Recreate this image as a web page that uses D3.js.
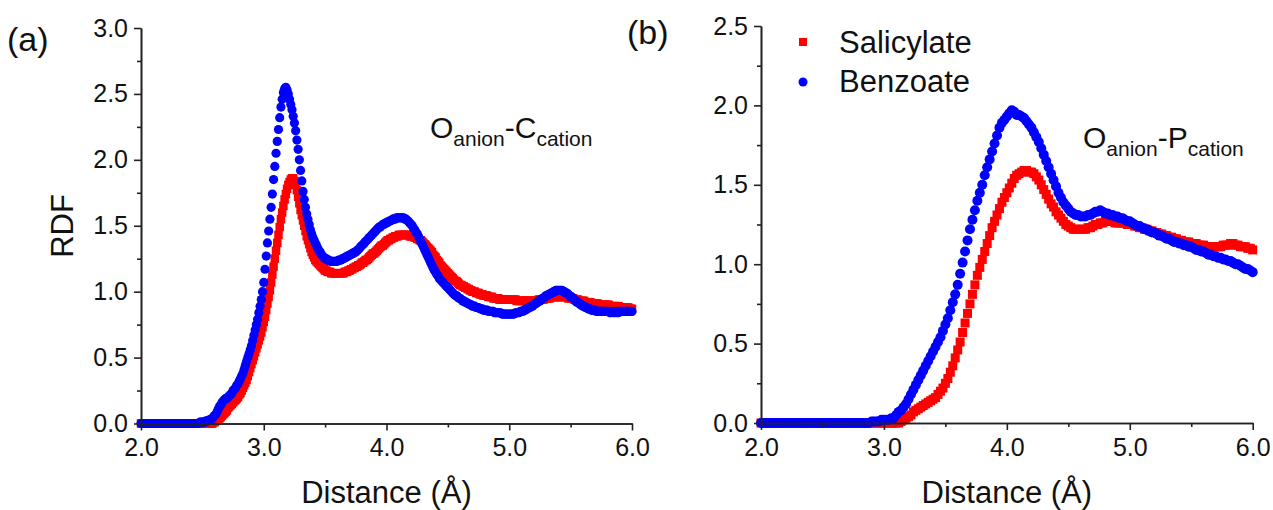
<!DOCTYPE html>
<html>
<head>
<meta charset="utf-8">
<script src="https://cdn.jsdelivr.net/npm/d3@7"></script>
<style>
  body { margin: 0; background: #fff; }
  svg { font-family: "Liberation Sans", Arial, sans-serif; }
</style>
</head>
<body>
<div id="chart"></div>
<script>
/**
 * RDF data.
 * Panel (a): O(anion)-C(cation), sampled every 0.01 Å from 2.00 Å.
 * Panel (b): O(anion)-P(cation), sampled every 0.02 Å from 2.00 Å.
 */
const distStartA = 2.0, distStepA = 0.01;
const distStartB = 2.0, distStepB = 0.02;

const salicylateA = [
  0,0,0,0,0,0,0,0,0,0,
  0,0,0,0,0,0,0,0,0,0,
  0,0,0,0,0,0,0,0,0,0,
  0,0,0,0,0,0,0,0,0,0,
  0,0,0,0,0,0,0,0,0,0,
  0,0,0,0,0,0,0,0,0,0.01,
  0.01,0.02,0.02,0.03,0.04,0.05,0.06,0.07,0.08,0.09,
  0.10,0.12,0.13,0.14,0.15,0.16,0.17,0.18,0.19,0.20,
  0.22,0.23,0.25,0.27,0.29,0.31,0.33,0.36,0.39,0.42,
  0.45,0.48,0.51,0.54,0.57,0.60,0.63,0.66,0.69,0.73,
  0.77,0.81,0.86,0.91,0.96,1.01,1.07,1.13,1.19,1.25,
  1.31,1.37,1.43,1.49,1.55,1.60,1.65,1.70,1.74,1.78,
  1.81,1.83,1.85,1.86,1.86,1.84,1.81,1.77,1.72,1.67,
  1.62,1.58,1.54,1.50,1.46,1.42,1.39,1.36,1.33,1.30,
  1.28,1.26,1.24,1.23,1.22,1.21,1.20,1.19,1.18,1.17,
  1.16,1.16,1.15,1.15,1.15,1.14,1.14,1.14,1.14,1.14,
  1.14,1.14,1.14,1.14,1.14,1.14,1.15,1.15,1.15,1.16,
  1.16,1.17,1.17,1.18,1.18,1.19,1.19,1.20,1.20,1.21,
  1.22,1.22,1.23,1.24,1.24,1.25,1.26,1.27,1.28,1.29,
  1.29,1.30,1.31,1.32,1.33,1.34,1.35,1.35,1.36,1.37,
  1.38,1.39,1.39,1.40,1.40,1.41,1.41,1.42,1.42,1.42,
  1.43,1.43,1.43,1.43,1.43,1.43,1.43,1.43,1.43,1.42,
  1.42,1.42,1.42,1.41,1.41,1.40,1.40,1.39,1.39,1.38,
  1.37,1.36,1.35,1.34,1.33,1.32,1.31,1.30,1.28,1.27,
  1.26,1.24,1.23,1.22,1.20,1.19,1.18,1.17,1.16,1.15,
  1.14,1.13,1.12,1.11,1.10,1.09,1.08,1.08,1.07,1.06,
  1.05,1.05,1.04,1.04,1.03,1.03,1.02,1.02,1.01,1.01,
  1.00,1.00,1.00,0.99,0.99,0.99,0.98,0.98,0.98,0.97,
  0.97,0.97,0.97,0.96,0.96,0.96,0.96,0.95,0.95,0.95,
  0.95,0.95,0.94,0.94,0.94,0.94,0.94,0.94,0.94,0.94,
  0.94,0.94,0.94,0.94,0.94,0.94,0.93,0.93,0.93,0.93,
  0.93,0.93,0.93,0.93,0.93,0.93,0.93,0.93,0.93,0.93,
  0.93,0.93,0.93,0.93,0.94,0.94,0.94,0.94,0.94,0.95,
  0.95,0.95,0.95,0.95,0.96,0.96,0.96,0.96,0.96,0.96,
  0.96,0.96,0.96,0.96,0.96,0.96,0.96,0.96,0.95,0.95,
  0.95,0.95,0.95,0.94,0.94,0.94,0.94,0.93,0.93,0.93,
  0.93,0.93,0.92,0.92,0.92,0.92,0.92,0.91,0.91,0.91,
  0.91,0.91,0.91,0.90,0.90,0.90,0.90,0.90,0.90,0.90,
  0.90,0.90,0.89,0.89,0.89,0.89,0.89,0.89,0.89,0.89,
  0.88,0.88,0.88,0.88,0.88,0.88,0.88,0.88,0.87,0.87,
  0.87
];

const benzoateA = [
  0,0,0,0,0,0,0,0,0,0,
  0,0,0,0,0,0,0,0,0,0,
  0,0,0,0,0,0,0,0,0,0,
  0,0,0,0,0,0,0,0,0,0,
  0,0,0,0,0,0,0,0,0.01,0.01,
  0.01,0.01,0.01,0.02,0.02,0.02,0.03,0.03,0.04,0.05,
  0.06,0.07,0.09,0.11,0.13,0.14,0.16,0.17,0.18,0.19,
  0.19,0.20,0.21,0.22,0.23,0.25,0.26,0.27,0.29,0.30,
  0.32,0.34,0.36,0.38,0.41,0.44,0.47,0.50,0.53,0.56,
  0.59,0.63,0.67,0.71,0.75,0.79,0.84,0.89,0.94,1.00,
  1.07,1.17,1.27,1.37,1.46,1.55,1.64,1.74,1.85,1.95,
  2.05,2.14,2.23,2.32,2.40,2.46,2.51,2.54,2.55,2.53,
  2.50,2.46,2.42,2.38,2.33,2.28,2.22,2.15,2.08,2.00,
  1.92,1.84,1.76,1.70,1.64,1.59,1.55,1.51,1.47,1.44,
  1.41,1.39,1.37,1.35,1.33,1.31,1.30,1.28,1.27,1.26,
  1.25,1.25,1.24,1.24,1.23,1.23,1.23,1.23,1.23,1.23,
  1.23,1.24,1.24,1.24,1.25,1.25,1.26,1.26,1.27,1.27,
  1.28,1.28,1.29,1.29,1.30,1.30,1.31,1.32,1.33,1.34,
  1.35,1.36,1.37,1.38,1.39,1.40,1.41,1.42,1.43,1.44,
  1.45,1.46,1.47,1.48,1.49,1.49,1.50,1.51,1.51,1.52,
  1.52,1.53,1.53,1.54,1.54,1.55,1.55,1.55,1.56,1.56,
  1.56,1.56,1.56,1.56,1.56,1.55,1.55,1.54,1.53,1.52,
  1.51,1.50,1.48,1.47,1.45,1.44,1.42,1.40,1.38,1.36,
  1.34,1.32,1.30,1.28,1.26,1.24,1.22,1.20,1.18,1.16,
  1.15,1.13,1.12,1.10,1.09,1.08,1.07,1.06,1.05,1.04,
  1.03,1.02,1.01,1.00,0.99,0.98,0.97,0.97,0.96,0.95,
  0.95,0.94,0.93,0.93,0.92,0.92,0.91,0.91,0.90,0.90,
  0.89,0.89,0.89,0.88,0.88,0.88,0.87,0.87,0.87,0.86,
  0.86,0.86,0.86,0.85,0.85,0.85,0.85,0.85,0.84,0.84,
  0.84,0.84,0.84,0.84,0.83,0.83,0.83,0.83,0.83,0.83,
  0.83,0.83,0.83,0.83,0.83,0.84,0.84,0.84,0.84,0.85,
  0.85,0.85,0.86,0.86,0.87,0.87,0.88,0.88,0.89,0.89,
  0.90,0.91,0.91,0.92,0.93,0.93,0.94,0.95,0.95,0.96,
  0.97,0.97,0.98,0.98,0.99,0.99,1.00,1.00,1.01,1.01,
  1.01,1.01,1.01,1.01,1.00,1.00,0.99,0.99,0.98,0.97,
  0.96,0.96,0.95,0.94,0.93,0.92,0.92,0.91,0.90,0.90,
  0.89,0.89,0.88,0.88,0.87,0.87,0.87,0.86,0.86,0.86,
  0.86,0.85,0.85,0.85,0.85,0.85,0.85,0.85,0.85,0.85,
  0.85,0.85,0.84,0.84,0.85,0.84,0.84,0.85,0.84,0.84,
  0.85,0.85,0.85,0.85,0.85,0.85,0.85,0.85,0.85,0.85,
  0.85
];

const salicylateB = [
  0,0,0,0,0,  0,0,0,0,0,  0,0,0,0,0,  0,0,0,0,0,
  0,0,0,0,0,  0,0,0,0,0,  0,0,0,0,0,  0,0,0,0,0,
  0,0,0,0,0,  0,0,0,0,0,  0,0,0,0,0,
  0,0,0.01,0.02,0.03,
  0.04,0.05,0.07,0.08,0.09,
  0.10,0.11,0.12,0.13,0.14,
  0.15,0.16,0.18,0.20,0.22,
  0.25,0.28,0.32,0.36,0.41,
  0.46,0.51,0.57,0.63,0.69,
  0.75,0.81,0.87,0.93,0.98,
  1.03,1.08,1.13,1.18,1.23,
  1.27,1.31,1.35,1.39,1.42,
  1.45,1.48,1.51,1.54,1.56,
  1.57,1.58,1.59,1.59,1.58,
  1.58,1.57,1.55,1.53,1.50,
  1.47,1.44,1.41,1.38,1.36,
  1.33,1.31,1.29,1.27,1.25,
  1.24,1.23,1.22,1.22,1.22,
  1.22,1.22,1.22,1.23,1.23,
  1.24,1.25,1.25,1.26,1.26,
  1.27,1.27,1.27,1.27,1.26,
  1.26,1.26,1.26,1.26,1.25,
  1.25,1.25,1.24,1.24,1.23,
  1.23,1.22,1.22,1.21,1.21,
  1.20,1.20,1.19,1.19,1.18,
  1.18,1.17,1.17,1.16,1.16,
  1.15,1.15,1.14,1.14,1.14,
  1.13,1.13,1.13,1.12,1.12,
  1.12,1.11,1.11,1.11,1.11,
  1.11,1.11,1.11,1.12,1.12,
  1.12,1.13,1.13,1.12,1.12,
  1.11,1.11,1.11,1.10,1.10,
  1.09
];

const benzoateB = [
  0,0,0,0,0,  0,0,0,0,0,  0,0,0,0,0,  0,0,0,0,0,
  0,0,0,0,0,  0,0,0,0,0,  0,0,0,0,0,  0,0,0,0,0,
  0,0,0,0,0,
  0.01,0.01,0.01,0.01,0.02,
  0.02,0.02,0.02,0.03,0.03,
  0.05,0.07,0.08,0.10,0.12,
  0.15,0.18,0.21,0.24,0.27,
  0.30,0.33,0.36,0.39,0.42,
  0.45,0.48,0.51,0.54,0.58,
  0.62,0.66,0.71,0.76,0.81,
  0.87,0.94,1.01,1.08,1.15,
  1.22,1.28,1.34,1.40,1.45,
  1.50,1.56,1.61,1.66,1.71,
  1.76,1.81,1.86,1.89,1.91,
  1.93,1.95,1.97,1.96,1.94,
  1.94,1.93,1.92,1.90,1.88,
  1.86,1.83,1.80,1.77,1.73,
  1.69,1.65,1.61,1.57,1.53,
  1.49,1.45,1.42,1.39,1.37,
  1.35,1.33,1.32,1.31,1.31,
  1.30,1.30,1.30,1.31,1.31,
  1.32,1.33,1.33,1.34,1.33,
  1.32,1.32,1.31,1.31,1.30,
  1.30,1.29,1.29,1.28,1.27,
  1.27,1.26,1.25,1.24,1.24,
  1.23,1.22,1.22,1.21,1.20,
  1.20,1.19,1.18,1.18,1.17,
  1.16,1.16,1.15,1.14,1.14,
  1.13,1.13,1.12,1.12,1.11,
  1.11,1.10,1.09,1.09,1.08,
  1.08,1.07,1.06,1.06,1.05,
  1.05,1.04,1.04,1.03,1.03,
  1.02,1.02,1.01,1.00,1.00,
  0.99,0.98,0.97,0.97,0.96,
  0.95
];

const xTicks = [2.0, 3.0, 4.0, 5.0, 6.0];
const xMinorTicks = [2.5, 3.5, 4.5, 5.5];
const yTicksA = [0.0, 0.5, 1.0, 1.5, 2.0, 2.5, 3.0];
const yMinorTicksA = [0.25, 0.75, 1.25, 1.75, 2.25, 2.75];
const yTicksB = [0.0, 0.5, 1.0, 1.5, 2.0, 2.5];
const yMinorTicksB = [0.25, 0.75, 1.25, 1.75, 2.25];

const seriesNames = ["Salicylate", "Benzoate"];

/**
 * Look.
 */
const width = 1273, height = 510;
const salicylateColor = "#ff0000";
const benzoateColor = "#0000ff";
const axisColor = "#222";
const textColor = "#111";

const toPoints = (values, start, step) => values.map((v, i) => ({x: start + i * step, y: v}));

const panels = [
  {
    label: "(a)", labelPos: [7, 51],
    xRange: [141, 632], yRange: [423.5, 28], yMax: 3.0,
    yTicks: yTicksA, yMinor: yMinorTicksA,
    red: toPoints(salicylateA, distStartA, distStepA),
    blue: toPoints(benzoateA, distStartA, distStepA),
    square: 8.5, radius: 4.6,
    site: ["O", "anion", "-C", "cation"], sitePos: [430, 138],
    yTitle: true, legend: false
  },
  {
    label: "(b)", labelPos: [627, 44],
    xRange: [761, 1252.7], yRange: [423, 26], yMax: 2.5,
    yTicks: yTicksB, yMinor: yMinorTicksB,
    red: toPoints(salicylateB, distStartB, distStepB),
    blue: toPoints(benzoateB, distStartB, distStepB),
    square: 9, radius: 5,
    site: ["O", "anion", "-P", "cation"], sitePos: [1083, 148],
    yTitle: false, legend: true
  }
];

const svg = d3.select("#chart")
  .append("svg")
    .attr("width", width)
    .attr("height", height);

const drawPanel = (p) => {
  const x = d3.scaleLinear().domain([2, 6]).range(p.xRange);
  const y = d3.scaleLinear().domain([0, p.yMax]).range(p.yRange);
  const g = svg.append("g");

  // markers: red squares under blue circles
  g.append("g").selectAll("rect")
    .data(p.red)
    .enter().append("rect")
      .attr("x", d => x(d.x) - p.square / 2)
      .attr("y", d => y(d.y) - p.square / 2)
      .attr("width", p.square)
      .attr("height", p.square)
      .attr("fill", salicylateColor);

  g.append("g").selectAll("circle")
    .data(p.blue)
    .enter().append("circle")
      .attr("cx", d => x(d.x))
      .attr("cy", d => y(d.y))
      .attr("r", p.radius)
      .attr("fill", benzoateColor);

  // axes
  const y0 = p.yRange[0], x0 = p.xRange[0];
  const styleAxis = (sel) => {
    sel.selectAll("path, line").attr("stroke", axisColor).attr("stroke-width", 1.6);
    sel.selectAll("text").attr("fill", textColor).style("font-size", "25px");
  };

  g.append("g")
    .attr("transform", `translate(0,${y0})`)
    .call(d3.axisBottom(x).tickValues(xMinorTicks).tickSize(4).tickFormat("").tickSizeOuter(0))
    .call(styleAxis);
  g.append("g")
    .attr("transform", `translate(0,${y0})`)
    .call(d3.axisBottom(x).tickValues(xTicks).tickSize(7).tickPadding(8).tickFormat(d3.format(".1f")).tickSizeOuter(0))
    .call(styleAxis);

  g.append("g")
    .attr("transform", `translate(${x0},0)`)
    .call(d3.axisLeft(y).tickValues(p.yMinor).tickSize(4).tickFormat("").tickSizeOuter(0))
    .call(styleAxis);
  g.append("g")
    .attr("transform", `translate(${x0},0)`)
    .call(d3.axisLeft(y).tickValues(p.yTicks).tickSize(7).tickPadding(6).tickFormat(d3.format(".1f")).tickSizeOuter(0))
    .call(styleAxis);

  // titles
  g.append("text")
    .attr("x", x(4))
    .attr("y", 503)
    .attr("text-anchor", "middle")
    .style("font-size", "31px")
    .attr("fill", textColor)
    .text("Distance (Å)");

  if (p.yTitle) {
    g.append("text")
      .attr("transform", "translate(73,226) rotate(-90)")
      .attr("text-anchor", "middle")
      .style("font-size", "31px")
      .attr("fill", textColor)
      .text("RDF");
  }

  g.append("text")
    .attr("x", p.labelPos[0])
    .attr("y", p.labelPos[1])
    .style("font-size", "34px")
    .attr("fill", textColor)
    .text(p.label);

  // site label with subscripts
  const site = g.append("text")
    .attr("x", p.sitePos[0])
    .attr("y", p.sitePos[1])
    .style("font-size", "30px")
    .attr("fill", textColor);
  site.append("tspan").text(p.site[0]);
  site.append("tspan").attr("dy", 8).style("font-size", "21px").text(p.site[1]);
  site.append("tspan").attr("dy", -8).text(p.site[2]);
  site.append("tspan").attr("dy", 8).style("font-size", "21px").text(p.site[3]);

  if (p.legend) {
    const lg = g.append("g");
    lg.append("rect")
      .attr("x", 803 - 4).attr("y", 42 - 4)
      .attr("width", 8).attr("height", 8)
      .attr("fill", salicylateColor);
    lg.append("circle")
      .attr("cx", 803).attr("cy", 82).attr("r", 4.5)
      .attr("fill", benzoateColor);
    lg.selectAll("text")
      .data(seriesNames)
      .enter().append("text")
        .attr("x", 839)
        .attr("y", (d, i) => 53 + i * 39)
        .style("font-size", "31px")
        .attr("fill", textColor)
        .text(d => d);
  }
};

panels.forEach(drawPanel);
</script>
</body>
</html>
